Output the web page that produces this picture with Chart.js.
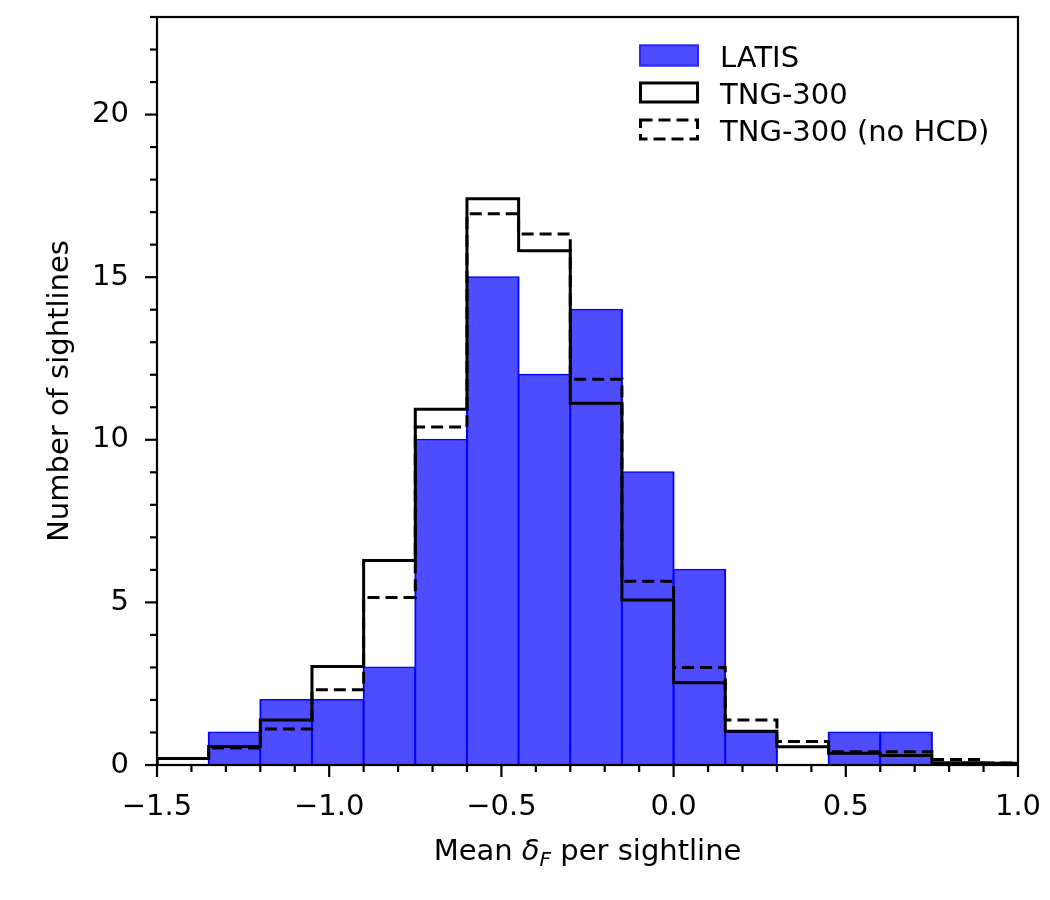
<!doctype html>
<html>
<head>
    <title>Mean delta_F per sightline</title>
    <script src="https://cdn.jsdelivr.net/npm/chart.js@4.4.1/dist/chart.umd.min.js"></script>
    <style>
        body { margin: 0; background: #fff; }
        #wrap { width: 1050px; height: 900px; position: relative; }
    </style>
</head>
<body>
    <div id="wrap">
        <canvas id="canvas"></canvas>
    </div>
    <script>
        // histogram bin edges (width 0.15, last bin runs past the axis)
        var binEdges = [-1.5, -1.35, -1.2, -1.05, -0.9, -0.75, -0.6, -0.45, -0.3, -0.15,
                        0.0, 0.15, 0.3, 0.45, 0.6, 0.75, 0.9, 1.05];
        var latis    = [0, 1, 2, 2, 3, 10, 15, 12, 14, 9, 6, 1, 0, 1, 1, 0, 0];
        var tng      = [0.2, 0.57, 1.38, 3.03, 6.29, 10.94, 17.41, 15.81, 11.12, 5.07, 2.53, 1.04, 0.56, 0.36, 0.29, 0.07, 0.05];
        var tngNoHcd = [0.2, 0.52, 1.11, 2.31, 5.15, 10.39, 16.95, 16.33, 11.86, 5.65, 3.0, 1.38, 0.72, 0.41, 0.41, 0.17, 0.06];
        var xTickLabels = [-1.5, -1.0, -0.5, 0.0, 0.5, 1.0];
        var yTickLabels = [0, 5, 10, 15, 20];

        var FONT = 'DejaVu Sans';
        var FS = 29;
        var X_STEP = 0.1;   // minor tick spacing on x
        var BIN_W = 0.15;

        function barPoints(vals) {
            return vals.map(function (v, i) {
                return { x: (binEdges[i] + binEdges[i + 1]) / 2, y: v };
            });
        }
        // step outline like matplotlib histtype='step'
        function stepPoints(vals) {
            var pts = [{ x: binEdges[0], y: 0 }];
            vals.forEach(function (v, i) { pts.push({ x: binEdges[i], y: v }); });
            var last = binEdges.length - 1;
            pts.push({ x: binEdges[last], y: vals[vals.length - 1] });
            pts.push({ x: binEdges[last], y: 0 });
            return pts;
        }
        function isLabelled(v, list) {
            return list.some(function (t) { return Math.abs(t - v) < 1e-6; });
        }

        var axesPlugin = {
            id: 'axesPlugin',
            afterDraw: function (chart) {
                var ctx = chart.ctx, a = chart.chartArea;
                var xs = chart.scales.x, ys = chart.scales.y;
                ctx.save();
                ctx.strokeStyle = '#000';
                ctx.lineWidth = 2.2;
                // ticks
                xs.ticks.forEach(function (t) {
                    var px = xs.getPixelForValue(t.value);
                    var len = isLabelled(t.value, xTickLabels) ? 12 : 7;
                    ctx.beginPath(); ctx.moveTo(px, a.bottom); ctx.lineTo(px, a.bottom + len); ctx.stroke();
                });
                ys.ticks.forEach(function (t) {
                    var py = ys.getPixelForValue(t.value);
                    var len = isLabelled(t.value, yTickLabels) ? 12 : 7;
                    ctx.beginPath(); ctx.moveTo(a.left, py); ctx.lineTo(a.left - len, py); ctx.stroke();
                });
                // frame
                ctx.strokeRect(a.left, a.top, a.right - a.left, a.bottom - a.top);

                // x axis title with subscript
                var big = FS + 'px "' + FONT + '"';
                var ital = 'italic ' + FS + 'px "' + FONT + '"';
                var sub = 'italic ' + Math.round(FS * 0.7) + 'px "' + FONT + '"';
                var parts = [
                    { t: 'Mean ', f: big, dy: 0 },
                    { t: '\u03b4', f: ital, dy: 0 },
                    { t: 'F', f: sub, dy: 6 },
                    { t: ' per sightline', f: big, dy: 0 }
                ];
                var total = 0;
                parts.forEach(function (p) { ctx.font = p.f; p.w = ctx.measureText(p.t).width; total += p.w; });
                var x = (a.left + a.right) / 2 - total / 2, base = 860;
                ctx.fillStyle = '#000';
                ctx.textBaseline = 'alphabetic';
                ctx.textAlign = 'left';
                parts.forEach(function (p) { ctx.font = p.f; ctx.fillText(p.t, x, base + p.dy); x += p.w; });

                // legend inside the axes, top right
                var bx = a.right - 379, tx = a.right - 298, rowBase = a.top + 49.5, rowStep = 37;
                ctx.font = big;
                chart.data.datasets.forEach(function (ds, i) {
                    var b = rowBase + i * rowStep;
                    ctx.save();
                    if (ds.type === 'bar') {
                        ctx.fillStyle = ds.backgroundColor;
                        ctx.fillRect(bx, b - 22, 60, 22);
                        ctx.strokeStyle = 'rgb(40,40,255)';
                        ctx.lineWidth = 2;
                        ctx.strokeRect(bx + 1, b - 21, 58, 20);
                    } else {
                        ctx.strokeStyle = ds.borderColor;
                        ctx.lineWidth = ds.borderWidth;
                        ctx.setLineDash(ds.borderDash || []);
                        ctx.strokeRect(bx + 1.5, b - 20.5, 57, 19);
                    }
                    ctx.restore();
                    ctx.fillStyle = '#000';
                    ctx.fillText(ds.label, tx, b);
                });
                ctx.restore();
            }
        };

        var config = {
            type: 'bar',
            data: {
                datasets: [{
                    type: 'bar',
                    label: 'LATIS',
                    data: barPoints(latis),
                    backgroundColor: 'rgb(77,77,255)',
                    borderColor: 'rgb(0,0,255)',
                    borderWidth: { top: 1.5, left: 2, right: 2, bottom: 0 },
                    borderSkipped: 'start',
                    inflateAmount: 1,
                    // Chart.js sizes bars by the tick spacing (0.1), a bin is 0.15 wide
                    barPercentage: BIN_W / X_STEP,
                    categoryPercentage: 1,
                    grouped: false,
                    order: 3
                }, {
                    type: 'line',
                    label: 'TNG-300',
                    data: stepPoints(tng),
                    borderColor: '#000',
                    backgroundColor: 'rgba(0,0,0,0)',
                    borderWidth: 3,
                    stepped: true,
                    pointRadius: 0,
                    fill: false,
                    order: 1
                }, {
                    type: 'line',
                    label: 'TNG-300 (no HCD)',
                    data: stepPoints(tngNoHcd),
                    borderColor: '#000',
                    backgroundColor: 'rgba(0,0,0,0)',
                    borderWidth: 3,
                    borderDash: [12, 6],
                    stepped: true,
                    pointRadius: 0,
                    fill: false,
                    order: 2
                }]
            },
            options: {
                responsive: true,
                maintainAspectRatio: false,
                animation: false,
                layout: { padding: { left: 0, top: 17, right: 32, bottom: 0 } },
                plugins: { legend: { display: false }, tooltip: { enabled: false } },
                scales: {
                    x: {
                        type: 'linear',
                        min: -1.5, max: 1.0,
                        offset: false,
                        grid: { display: true, offset: false, drawOnChartArea: false, drawTicks: true, tickLength: 12, color: 'rgba(0,0,0,0)' },
                        border: { display: false },
                        ticks: {
                            stepSize: X_STEP, autoSkip: false, maxRotation: 0, minRotation: 0,
                            padding: 13, color: '#000',
                            font: { family: FONT, size: FS },
                            callback: function (v) {
                                return isLabelled(v, xTickLabels) ? v.toFixed(1).replace('-', '\u2212') : '';
                            }
                        },
                        afterFit: function (s) { s.height = 135; s.paddingLeft = 0; s.paddingRight = 0; }
                    },
                    y: {
                        min: 0, max: 23,
                        grid: { display: true, drawOnChartArea: false, drawTicks: true, tickLength: 12, color: 'rgba(0,0,0,0)' },
                        border: { display: false },
                        ticks: {
                            stepSize: 1, autoSkip: false, padding: 16, color: '#000',
                            font: { family: FONT, size: FS },
                            callback: function (v) { return isLabelled(v, yTickLabels) ? String(v) : ''; }
                        },
                        title: {
                            display: true, text: 'Number of sightlines', color: '#000',
                            font: { family: FONT, size: FS }, padding: { top: 43, bottom: 0 }
                        },
                        afterFit: function (s) { s.width = 157; s.paddingTop = 0; s.paddingBottom = 0; }
                    }
                }
            },
            plugins: [axesPlugin]
        };

        window.onload = function () {
            var ctx = document.getElementById('canvas').getContext('2d');
            window.myChart = new Chart(ctx, config);
        };
    </script>
</body>
</html>
